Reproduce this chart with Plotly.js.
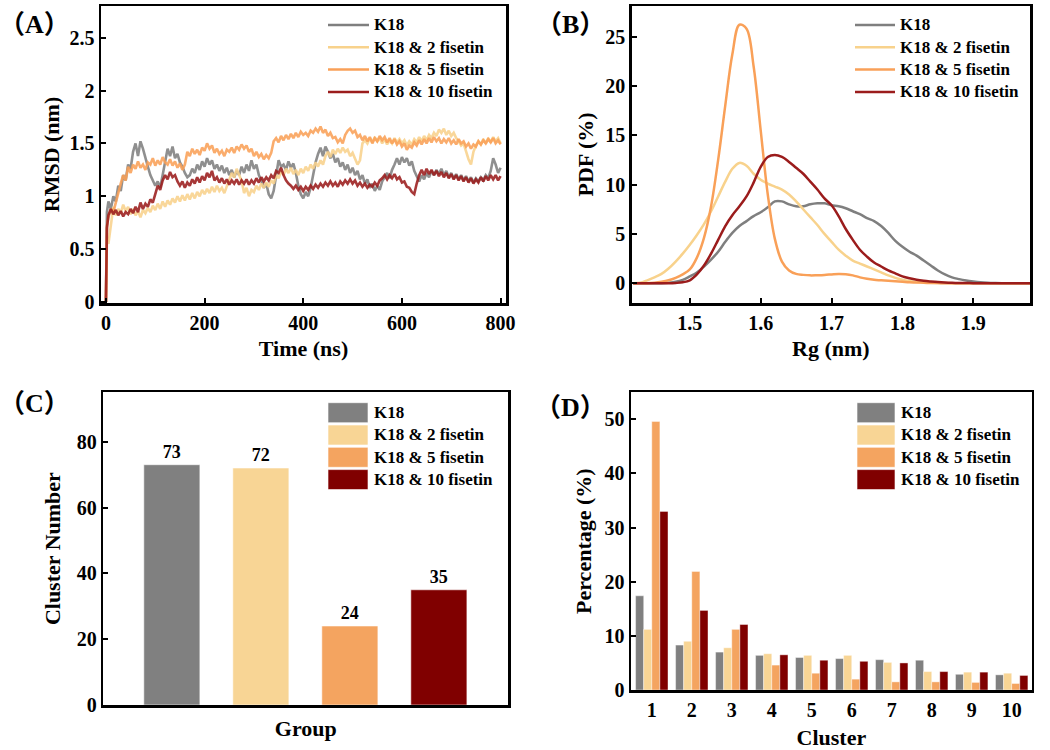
<!DOCTYPE html>
<html>
<head>
<meta charset="utf-8">
<script src="https://cdn.plot.ly/plotly-3.0.1.min.js"></script>
<style>
  html, body { margin: 0; padding: 0; background: #fff; }
  #chart { width: 1050px; height: 750px; }
</style>
</head>
<body>
<div id="chart"></div>
<script>
// ---- data ----
const seriesNames = ['K18', 'K18 & 2 fisetin', 'K18 & 5 fisetin', 'K18 & 10 fisetin'];

// (A) RMSD vs time
const timeNs = [0,2,5,10,15,20,25,30,35,40,45,50,55,60,65,70,75,80,85,90,95,100,
  105,110,115,120,125,130,135,140,145,150,155,160,165,170,175,180,185,190,195,200,
  205,210,215,220,225,230,235,240,245,250,255,260,265,270,275,280,285,290,295,300,
  305,310,315,320,325,330,335,340,345,350,355,360,365,370,375,380,385,390,395,400,
  405,410,415,420,425,430,435,440,445,450,455,460,465,470,475,480,485,490,495,500,
  505,510,515,520,525,530,535,540,545,550,555,560,565,570,575,580,585,590,595,600,
  605,610,615,620,625,630,635,640,645,650,655,660,665,670,675,680,685,690,695,700,
  705,710,715,720,725,730,735,740,745,750,755,760,765,770,775,780,785,790,795,800];

const rmsdK18 = [0, 0.85,
  0.95,0.88,1.0,0.95,1.1,1.05,1.2,1.15,1.3,1.26,
  1.42,1.5,1.38,1.52,1.45,1.35,1.28,1.2,1.15,1.1,
  1.14,1.08,1.2,1.32,1.45,1.38,1.47,1.36,1.4,1.32,
  1.28,1.22,1.18,1.2,1.26,1.22,1.3,1.25,1.33,1.28,
  1.36,1.3,1.34,1.26,1.3,1.24,1.29,1.22,1.27,1.2,
  1.25,1.18,1.24,1.2,1.28,1.22,1.3,1.24,1.34,1.26,
  1.3,1.2,1.15,1.08,1.12,1.02,0.98,1.05,1.2,1.34,
  1.28,1.3,1.25,1.33,1.27,1.31,1.22,1.1,1.02,0.98,
  1.04,1.0,1.08,1.2,1.32,1.4,1.46,1.38,1.47,1.42,
  1.36,1.4,1.32,1.36,1.28,1.32,1.25,1.3,1.22,1.27,
  1.2,1.24,1.16,1.2,1.12,1.16,1.08,1.12,1.05,1.1,
  1.06,1.14,1.18,1.22,1.17,1.25,1.3,1.36,1.3,1.37,
  1.32,1.36,1.29,1.33,1.24,1.19,1.14,1.2,1.16,1.22,
  1.18,1.24,1.2,1.25,1.21,1.26,1.2,1.24,1.18,1.22,
  1.17,1.21,1.16,1.2,1.15,1.19,1.14,1.18,1.13,1.17,
  1.14,1.18,1.15,1.2,1.17,1.24,1.36,1.3,1.22,1.27];

const rmsdF2 = [0, 0.6,
  0.55,0.75,0.9,0.82,0.88,0.84,0.92,0.86,0.9,0.83,
  0.88,0.82,0.86,0.8,0.87,0.84,0.89,0.85,0.91,0.87,
  0.93,0.88,0.95,0.9,0.96,0.92,0.98,0.94,1.0,0.95,
  1.01,0.96,1.02,0.97,1.03,0.98,1.04,1.0,1.06,1.02,
  1.07,1.03,1.09,1.04,1.1,1.05,1.08,1.03,1.1,1.15,
  1.22,1.18,1.26,1.2,1.15,1.03,1.08,1.0,1.06,1.04,
  1.1,1.06,1.12,1.08,1.13,1.09,1.15,1.12,1.2,1.17,
  1.24,1.2,1.26,1.22,1.27,1.21,1.25,1.2,1.26,1.22,
  1.28,1.24,1.3,1.26,1.32,1.28,1.34,1.3,1.38,1.42,
  1.37,1.44,1.4,1.45,1.41,1.46,1.42,1.44,1.38,1.41,
  1.35,1.3,1.34,1.5,1.53,1.5,1.55,1.51,1.56,1.52,
  1.55,1.5,1.54,1.49,1.53,1.5,1.55,1.51,1.54,1.5,
  1.53,1.48,1.52,1.49,1.54,1.51,1.56,1.52,1.57,1.53,
  1.58,1.55,1.6,1.57,1.63,1.6,1.64,1.58,1.62,1.57,
  1.6,1.55,1.52,1.48,1.5,1.42,1.35,1.3,1.42,1.48,
  1.52,1.49,1.54,1.5,1.55,1.51,1.56,1.52,1.55,1.5];

const rmsdF5 = [0, 0.72,
  0.8,0.88,0.85,0.95,1.05,1.12,1.2,1.15,1.28,1.22,
  1.3,1.26,1.33,1.27,1.3,1.25,1.32,1.3,1.36,1.29,
  1.34,1.3,1.37,1.32,1.3,1.35,1.29,1.33,1.27,1.31,
  1.25,1.3,1.42,1.38,1.45,1.4,1.44,1.39,1.46,1.43,
  1.5,1.45,1.48,1.41,1.45,1.4,1.43,1.38,1.44,1.42,
  1.46,1.41,1.47,1.44,1.49,1.45,1.48,1.42,1.45,1.38,
  1.42,1.37,1.4,1.35,1.39,1.36,1.41,1.52,1.55,1.51,
  1.57,1.53,1.58,1.54,1.59,1.55,1.6,1.56,1.61,1.58,
  1.6,1.57,1.62,1.6,1.64,1.61,1.66,1.6,1.63,1.57,
  1.6,1.55,1.56,1.51,1.54,1.5,1.58,1.62,1.64,1.6,
  1.62,1.56,1.58,1.53,1.57,1.52,1.56,1.5,1.55,1.52,
  1.57,1.53,1.56,1.51,1.55,1.5,1.54,1.49,1.52,1.47,
  1.5,1.44,1.48,1.46,1.51,1.48,1.53,1.49,1.54,1.5,
  1.55,1.51,1.56,1.52,1.55,1.5,1.54,1.51,1.55,1.5,
  1.53,1.49,1.54,1.5,1.52,1.47,1.5,1.45,1.49,1.47,
  1.52,1.49,1.53,1.5,1.54,1.51,1.55,1.5,1.53,1.49];

const rmsdF10 = [0, 0.7,
  0.82,0.88,0.83,0.87,0.82,0.86,0.81,0.85,0.83,0.88,
  0.84,0.9,0.85,0.94,0.88,0.93,0.9,0.97,0.94,1.02,
  1.1,1.06,1.15,1.2,1.16,1.23,1.18,1.2,1.14,1.1,
  1.14,1.08,1.13,1.1,1.16,1.12,1.18,1.13,1.19,1.15,
  1.22,1.18,1.24,1.15,1.18,1.13,1.17,1.12,1.16,1.11,
  1.15,1.12,1.16,1.11,1.15,1.12,1.16,1.11,1.15,1.12,
  1.17,1.13,1.18,1.14,1.18,1.15,1.2,1.17,1.24,1.22,
  1.27,1.2,1.15,1.12,1.1,1.07,1.1,1.06,1.09,1.05,
  1.09,1.06,1.1,1.07,1.11,1.08,1.12,1.09,1.13,1.1,
  1.14,1.1,1.13,1.09,1.14,1.11,1.15,1.12,1.16,1.12,
  1.15,1.1,1.13,1.09,1.12,1.08,1.11,1.09,1.13,1.1,
  1.15,1.17,1.2,1.16,1.2,1.17,1.21,1.16,1.18,1.13,
  1.14,1.09,1.08,1.04,1.02,1.12,1.2,1.25,1.2,1.26,
  1.21,1.25,1.2,1.24,1.19,1.23,1.18,1.22,1.17,1.21,
  1.16,1.2,1.15,1.19,1.14,1.18,1.13,1.17,1.12,1.16,
  1.13,1.18,1.14,1.19,1.15,1.2,1.16,1.2,1.15,1.19];

// (B) Rg probability density
const rgNm = [1.42,1.43,1.44,1.45,1.46,1.47,1.48,1.49,1.50,1.51,
  1.52,1.53,1.54,1.55,1.56,1.57,1.58,1.59,1.60,1.61,
  1.62,1.63,1.64,1.65,1.66,1.67,1.68,1.69,1.70,1.71,
  1.72,1.73,1.74,1.75,1.76,1.77,1.78,1.79,1.80,1.81,
  1.82,1.83,1.84,1.85,1.86,1.87,1.88,1.89,1.90,1.91,
  1.92,1.93,1.94,1.95,1.96,1.97,1.98];
const pdfK18 = [0,0,0,0,0,0.05,0.15,0.35,0.7,1.1,
  1.7,2.4,3.2,4.2,5.1,5.8,6.3,6.8,7.2,7.7,
  8.3,8.3,8.0,7.8,7.8,8.0,8.1,8.1,7.9,7.8,
  7.6,7.3,7.0,6.6,6.3,5.8,5.1,4.3,3.7,3.2,
  2.8,2.3,1.8,1.3,0.9,0.6,0.42,0.28,0.18,0.1,
  0.05,0.02,0,0,0,0,0];
const pdfF2 = [0,0.05,0.3,0.6,0.95,1.5,2.2,3.0,3.9,4.9,
  6.0,7.3,8.8,10.3,11.6,12.2,11.9,11.1,10.5,10.1,
  9.8,9.5,9.0,8.3,7.5,6.7,5.9,5.0,4.2,3.4,
  2.8,2.3,2.0,1.7,1.4,1.1,0.8,0.55,0.35,0.22,
  0.14,0.09,0.05,0.03,0.02,0.01,0,0,0,0,
  0,0,0,0,0,0,0];
const pdfF5 = [0,0,0,0.05,0.15,0.3,0.55,0.9,1.4,2.6,
  4.6,7.8,12.5,18.0,23.2,26.2,25.8,22.0,15.5,9.0,
  4.5,2.2,1.3,0.95,0.85,0.8,0.82,0.85,0.9,0.95,
  0.92,0.8,0.6,0.45,0.35,0.3,0.25,0.2,0.15,0.1,
  0.08,0.05,0.03,0.02,0,0,0,0,0,0,
  0,0,0,0,0,0,0];
const pdfF10 = [0,0,0,0,0,0,0.03,0.1,0.3,0.9,
  1.8,3.0,4.4,5.8,6.9,7.8,8.8,10.2,11.8,12.8,
  13.0,12.8,12.3,11.7,11.1,10.3,9.5,8.6,7.9,6.8,
  5.5,4.4,3.4,2.7,2.1,1.7,1.3,1.0,0.7,0.5,
  0.35,0.25,0.18,0.12,0.08,0.05,0.03,0.02,0.01,0,
  0,0,0,0,0,0,0];

// (C) number of clusters per group
const clusterCounts = [73, 72, 24, 35];

// (D) population of the top 10 clusters (%)
const clusterIds = [1,2,3,4,5,6,7,8,9,10];
const popK18 = [17.4, 8.3, 7.0, 6.4, 6.0, 5.8, 5.6, 5.5, 2.9, 2.8];
const popF2  = [11.2, 9.0, 7.8, 6.7, 6.4, 6.4, 5.1, 3.4, 3.3, 3.1];
const popF5  = [49.6, 21.9, 11.2, 4.6, 3.1, 2.0, 1.5, 1.5, 1.4, 1.2];
const popF10 = [33.0, 14.7, 12.1, 6.5, 5.5, 5.3, 5.0, 3.4, 3.3, 2.7];

// ---- styling ----
const lineColors = ['#7f7f7f', '#f8d28c', '#f9a058', '#9b1c1c'];
const barColors = ['#808080', '#f8d595', '#f4a460', '#800000'];
const FONT = 'Liberation Serif, Times New Roman, serif';
const W = 1050, H = 750;
const px = v => v / W;
const py = v => 1 - v / H;

function axisBase(extra) {
  return Object.assign({
    showline: true, linecolor: '#000', linewidth: 2.5, mirror: true,
    showgrid: false, zeroline: false,
    ticks: 'inside', ticklen: 5, tickwidth: 2, tickcolor: '#000',
    tickfont: { family: FONT, size: 20, weight: 'bold', color: '#000' },
    automargin: false, fixedrange: true
  }, extra);
}
function axTitle(text, standoff) {
  return { text: text, standoff: standoff, font: { family: FONT, size: 22, weight: 'bold', color: '#000' } };
}

const traces = [];
const rmsdSets = [rmsdK18, rmsdF2, rmsdF5, rmsdF10];
rmsdSets.forEach((ys, i) => {
  traces.push({
    x: timeNs, y: ys, type: 'scatter', mode: 'lines', name: seriesNames[i],
    xaxis: 'x', yaxis: 'y', showlegend: false, opacity: 0.88,
    line: { color: lineColors[i], width: 2.6 }
  });
});
const pdfSets = [pdfK18, pdfF2, pdfF5, pdfF10];
pdfSets.forEach((ys, i) => {
  traces.push({
    x: rgNm, y: ys, type: 'scatter', mode: 'lines', name: seriesNames[i],
    xaxis: 'x2', yaxis: 'y2', showlegend: false,
    line: { color: lineColors[i], width: 2.5, shape: 'spline', smoothing: 1 }
  });
});
traces.push({
  x: seriesNames, y: clusterCounts, type: 'bar', xaxis: 'x3', yaxis: 'y3',
  width: 0.63, showlegend: false,
  marker: { color: barColors, line: { color: 'rgba(255,255,255,0.55)', width: 1 } },
  text: clusterCounts.map(String), textposition: 'outside', cliponaxis: false,
  textfont: { family: FONT, size: 18, weight: 'bold', color: '#000' }
});
const popSets = [popK18, popF2, popF5, popF10];
popSets.forEach((ys, i) => {
  traces.push({
    x: clusterIds, y: ys, type: 'bar', name: seriesNames[i],
    xaxis: 'x4', yaxis: 'y4', showlegend: false,
    marker: { color: barColors[i], line: { color: 'rgba(255,255,255,0.5)', width: 0.8 } }
  });
});

// hand-placed legends and panel letters
const shapes = [];
const annotations = [];
function addLegend(kind, x0, x1, textX, firstTop, colors) {
  seriesNames.forEach((nm, i) => {
    const top = firstTop + 22.3 * i;
    const mid = kind === 'line' ? top : top + 10;
    if (kind === 'line') {
      shapes.push({ type: 'line', xref: 'paper', yref: 'paper', x0: px(x0), x1: px(x1),
        y0: py(mid), y1: py(mid), line: { color: colors[i], width: 2.5 } });
    } else {
      shapes.push({ type: 'rect', xref: 'paper', yref: 'paper', x0: px(x0), x1: px(x1),
        y0: py(top), y1: py(top + 20), fillcolor: colors[i],
        line: { color: 'rgba(255,255,255,0.6)', width: 1 } });
    }
    annotations.push({ xref: 'paper', yref: 'paper', x: px(textX), y: py(mid),
      xanchor: 'left', yanchor: 'middle', showarrow: false, text: nm,
      font: { family: FONT, size: 17, weight: 'bold', color: '#000' } });
  });
}
addLegend('line', 328, 369, 372, 25, lineColors);
addLegend('line', 855, 895, 898, 25, lineColors);
addLegend('rect', 328, 368, 372, 402.7, barColors);
addLegend('rect', 857, 895, 899, 402.7, barColors);

[['（A）', 34, 25], ['（B）', 570, 25], ['（C）', 34, 403], ['（D）', 570, 407]].forEach(p => {
  annotations.push({ xref: 'paper', yref: 'paper', x: px(p[1]), y: py(p[2]),
    xanchor: 'center', yanchor: 'middle', showarrow: false, text: p[0],
    font: { family: FONT + ', Noto Sans CJK SC', size: 26, weight: 'bold', color: '#000' } });
});

const layout = {
  width: W, height: H,
  margin: { l: 0, r: 0, t: 0, b: 0 },
  paper_bgcolor: '#fff', plot_bgcolor: '#fff',
  font: { family: FONT, size: 20, weight: 'bold', color: '#000' },
  showlegend: false,
  barmode: 'group', bargap: 0.19, bargroupgap: 0,
  xaxis: axisBase({ domain: [px(101), px(506)], range: [-10, 811], dtick: 200, tick0: 0,
    anchor: 'y', title: axTitle('Time (ns)', 8) }),
  yaxis: axisBase({ domain: [py(303), py(6)], range: [-0.01, 2.8], dtick: 0.5, tick0: 0,
    anchor: 'x', title: axTitle('RMSD (nm)', 4) }),
  xaxis2: axisBase({ domain: [px(631.7), px(1030)], range: [1.418, 1.98], dtick: 0.1, tick0: 1.5,
    anchor: 'y2', title: axTitle('Rg (nm)', 8) }),
  yaxis2: axisBase({ domain: [py(303), py(6)], range: [-2, 28.1], dtick: 5, tick0: 0,
    anchor: 'x2', title: axTitle('PDF (%)', 6) }),
  xaxis3: axisBase({ domain: [px(103.3), px(508.3)], range: [-0.77, 3.78], ticks: '',
    showticklabels: false, anchor: 'y3', title: axTitle('Group', 14) }),
  yaxis3: axisBase({ domain: [py(705), py(392.3)], range: [0, 95], dtick: 20, tick0: 0,
    anchor: 'x3', title: axTitle('Cluster Number', 10) }),
  xaxis4: axisBase({ domain: [px(631), px(1031.7)], range: [0.48, 10.5], dtick: 1, tick0: 1,
    ticks: '', anchor: 'y4', title: axTitle('Cluster', 11) }),
  yaxis4: axisBase({ domain: [py(690), py(392.3)], range: [0, 55], dtick: 10, tick0: 0,
    anchor: 'x4', title: axTitle('Percentage (%)', 7) }),
  shapes: shapes,
  annotations: annotations
};

Plotly.newPlot('chart', traces, layout, { staticPlot: true, displayModeBar: false });
</script>
</body>
</html>
